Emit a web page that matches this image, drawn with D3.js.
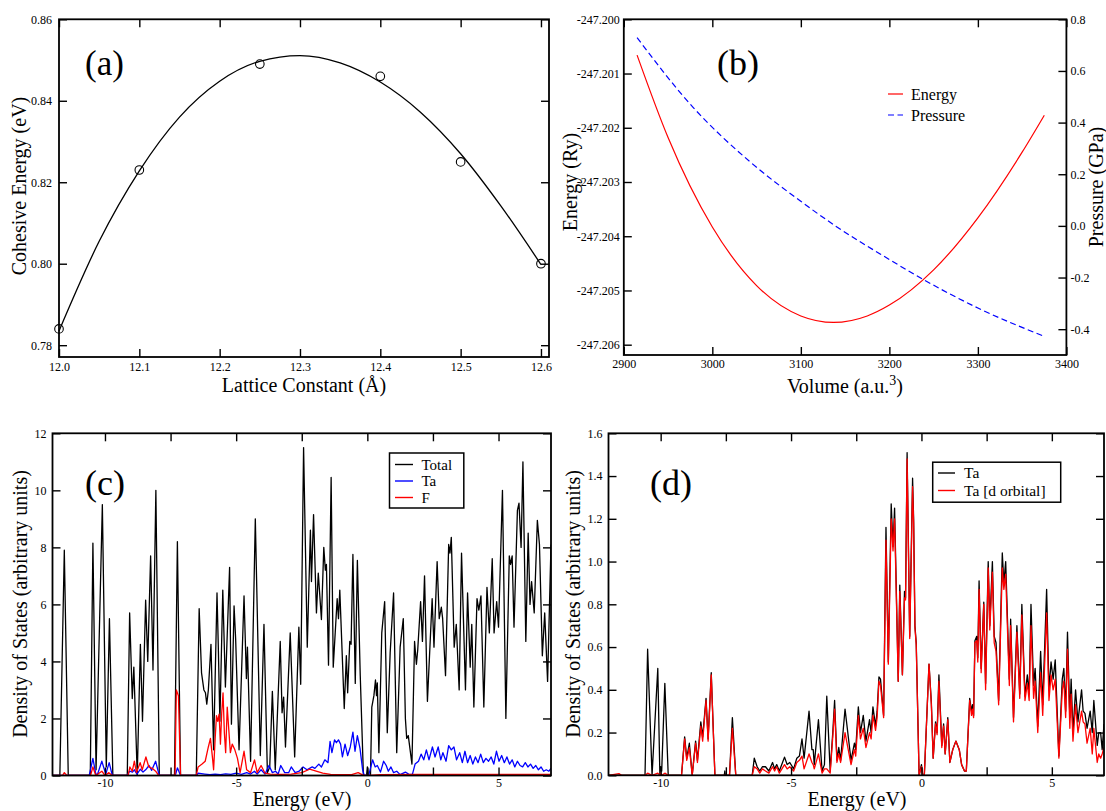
<!DOCTYPE html>
<html><head><meta charset="utf-8">
<script src="https://cdn.jsdelivr.net/npm/d3@7"></script>
<style>
body{margin:0;background:#fff}
svg{display:block}
text{font-family:"Liberation Serif","Times New Roman",serif;fill:#000}
</style>
</head><body>
<svg id="chart" width="1106" height="811"></svg>
<script>
// ---------------- (a) cohesive energy ----------------
const latticeConst = [12.0, 12.1, 12.25, 12.4, 12.5, 12.6];
const cohesiveEnergy = [0.784, 0.823, 0.849, 0.846, 0.825, 0.800];
const fitLattice = [12.0,12.05,12.1,12.15,12.2,12.25,12.3,12.35,12.4,12.45,12.5,12.55,12.6];
const fitEnergy  = [0.7835,0.8055,0.8228,0.8360,0.8448,0.8497,0.8511,0.8493,0.8446,0.8372,0.8270,0.8142,0.7998];
const aXTicks = [12.0,12.1,12.2,12.3,12.4,12.5,12.6];
const aYTicks = [0.78,0.80,0.82,0.84,0.86];

// ---------------- (b) E-V and P-V ----------------
const volE = [2915,2950,3000,3050,3100,3137,3175,3200,3250,3300,3350,3375];
const energyRy = [-247.20066,-247.20218,-247.20383,-247.20491,-247.20547,-247.20559,-247.20547,-247.20527,-247.20462,-247.20366,-247.20245,-247.20177];
const volP = [2915,2978,3042,3100,3139,3199,3237,3300,3375];
const pressureGPa = [0.729,0.46,0.25,0.095,0.0,-0.128,-0.205,-0.318,-0.428];
const bXTicks = [2900,3000,3100,3200,3300,3400];
const bYTicks = [-247.206,-247.205,-247.204,-247.203,-247.202,-247.201,-247.200];
const bY2Ticks = [-0.4,-0.2,0.0,0.2,0.4,0.6,0.8];

// ---------------- (c) DOS total / Ta / F ----------------
const dosTotal = [[-12,0],[-11.72,0],[-11.55,7.9],[-11.40,0],[-10.56,0],[-10.46,8.15],[-10.34,0.2],[-10.10,9.5],[-9.95,0.3],[-9.83,5.5],[-9.70,0],[-9.15,0],[-9.06,5.7],[-8.96,2.7],[-8.90,3.8],[-8.77,0],[-8.65,4.6],[-8.57,1.9],[-8.45,6.15],[-8.37,4.0],[-8.26,7.7],[-8.17,3.7],[-8.06,10.0],[-7.93,0],[-7.35,0],[-7.24,8.2],[-7.12,0],[-6.52,0],[-6.41,5.85],[-6.32,3.6],[-6.23,3.0],[-6.17,2.9],[-6.12,2.5],[-6.06,3.0],[-5.96,4.6],[-5.86,0.9],[-5.73,6.4],[-5.68,4.5],[-5.62,1.9],[-5.51,6.5],[-5.41,3.1],[-5.25,7.3],[-5.18,1.8],[-5.08,5.95],[-5.02,4.8],[-4.89,0.9],[-4.70,6.3],[-4.61,3.4],[-4.57,4.5],[-4.45,0.5],[-4.27,9.0],[-4.08,0.7],[-3.94,5.3],[-3.81,0.1],[-3.72,0.3],[-3.62,2.95],[-3.51,0.2],[-3.32,4.7],[-3.25,2.2],[-3.19,2.75],[-3.12,1.0],[-2.94,5.0],[-2.77,0.65],[-2.61,5.2],[-2.54,3.2],[-2.43,11.5],[-2.29,4.5],[-2.17,8.6],[-2.13,6.8],[-2.05,9.15],[-1.94,5.7],[-1.87,7.1],[-1.75,5.47],[-1.66,8.0],[-1.60,7.2],[-1.56,7.4],[-1.48,3.87],[-1.38,10.45],[-1.30,3.8],[-1.15,6.2],[-1.10,5.5],[-1.05,6.5],[-0.88,2.35],[-0.80,4.2],[-0.75,2.9],[-0.67,4.7],[-0.62,4.6],[-0.55,7.75],[-0.46,3.23],[-0.38,7.54],[-0.27,3.5],[-0.15,0],[-0.03,0],[0.0,0.3],[0.04,0],[0.12,0],[0.17,2.4],[0.25,2.8],[0.31,3.35],[0.35,2.8],[0.38,3.25],[0.44,0.8],[0.55,5.0],[0.66,6.1],[0.76,1.5],[0.87,4.3],[1.0,6.4],[1.12,0.8],[1.25,4.5],[1.37,5.5],[1.45,2.0],[1.50,1.3],[1.56,1.4],[1.70,0.4],[1.80,4.7],[1.87,3.9],[1.92,4.4],[2.03,6.1],[2.10,4.7],[2.18,7.0],[2.29,2.6],[2.47,6.2],[2.54,4.5],[2.66,7.5],[2.74,5.5],[2.82,5.9],[2.87,5.5],[2.98,3.5],[3.10,8.1],[3.15,7.8],[3.20,8.35],[3.31,4.5],[3.39,5.3],[3.50,3.0],[3.59,7.8],[3.74,3.0],[3.82,6.4],[3.92,3.8],[3.98,5.3],[4.06,2.4],[4.18,6.2],[4.25,5.8],[4.33,6.3],[4.44,2.4],[4.56,6.6],[4.65,5.0],[4.76,7.6],[4.83,5.0],[4.93,6.1],[5.0,5.2],[5.15,10.0],[5.28,2.0],[5.41,7.7],[5.46,7.4],[5.52,7.7],[5.59,5.2],[5.72,9.3],[5.78,9.55],[5.86,8.0],[5.93,11.0],[6.04,4.7],[6.13,8.5],[6.20,6.0],[6.26,6.8],[6.36,5.7],[6.48,8.95],[6.56,8.1],[6.67,4.2],[6.76,5.7],[6.87,3.3],[7.0,8.1]];
const dosTa = [[-12,0],[-10.6,0],[-10.46,0.6],[-10.35,0.05],[-10.28,0.05],[-10.12,0.5],[-9.97,0.05],[-9.84,0.45],[-9.72,0],[-9.15,0],[-9.06,0.15],[-8.95,0.12],[-8.88,0.2],[-8.78,0.05],[-8.65,0.22],[-8.55,0.12],[-8.45,0.2],[-8.32,0.35],[-8.22,0.18],[-8.07,0.5],[-7.93,0],[-7.32,0],[-7.24,0.27],[-7.12,0],[-6.52,0],[-6.45,0.08],[-6.2,0.05],[-6.0,0.03],[-5.8,0.05],[-5.6,0.03],[-5.4,0.06],[-5.2,0.04],[-5.0,0.08],[-4.8,0.04],[-4.6,0.1],[-4.45,0.05],[-4.3,0.15],[-4.2,0.05],[-4.05,0.2],[-3.9,0.05],[-3.75,0.35],[-3.62,0.1],[-3.5,0.15],[-3.4,0.05],[-3.3,0.35],[-3.15,0.1],[-3.0,0.1],[-2.9,0.3],[-2.75,0.1],[-2.6,0.15],[-2.45,0.3],[-2.3,0.2],[-2.1,0.3],[-2.0,0.25],[-1.85,0.4],[-1.75,0.3],[-1.62,0.55],[-1.5,0.45],[-1.42,1.2],[-1.35,0.8],[-1.25,1.25],[-1.18,1.15],[-1.1,1.25],[-1.02,1.1],[-0.95,0.65],[-0.85,1.1],[-0.75,0.7],[-0.65,1.0],[-0.55,1.52],[-0.47,0.85],[-0.38,1.4],[-0.28,0.95],[-0.18,0.2],[-0.12,0.0],[0.05,0.0],[0.2,0.55],[0.3,0.3],[0.38,0.35],[0.5,0.12],[0.62,0.5],[0.72,0.35],[0.8,0.15],[0.9,0.3],[1.0,0.1],[1.12,0.15],[1.25,0.03],[1.45,0.12],[1.6,0.03],[1.72,0.05],[1.82,0.4],[1.95,0.5],[2.05,0.75],[2.15,0.55],[2.25,0.9],[2.35,0.55],[2.48,1.0],[2.58,0.65],[2.7,1.0],[2.8,0.55],[2.88,0.8],[3.0,0.5],[3.1,1.05],[3.2,0.9],[3.3,1.0],[3.4,0.55],[3.52,0.8],[3.62,0.45],[3.72,0.85],[3.82,0.45],[3.92,0.7],[4.02,0.4],[4.12,0.65],[4.22,0.45],[4.32,0.75],[4.42,0.45],[4.52,0.6],[4.62,0.5],[4.72,0.65],[4.82,0.4],[4.92,0.85],[5.02,0.5],[5.12,0.7],[5.22,0.45],[5.32,0.65],[5.42,0.4],[5.52,0.55],[5.62,0.3],[5.72,0.5],[5.82,0.35],[5.92,0.3],[6.02,0.45],[6.12,0.3],[6.22,0.4],[6.32,0.25],[6.42,0.35],[6.52,0.2],[6.62,0.3],[6.72,0.15],[6.82,0.2],[6.92,0.15],[7.0,0.25]];
const dosF = [[-12,0],[-11.62,0],[-11.55,0.1],[-11.45,0],[-10.55,0],[-10.46,0.3],[-10.35,0],[-10.12,0.15],[-10.0,0],[-9.85,0.1],[-9.72,0],[-9.12,0],[-9.05,0.3],[-8.96,0.15],[-8.88,0.5],[-8.8,0.1],[-8.66,0.45],[-8.58,0.2],[-8.44,0.65],[-8.33,0.3],[-8.2,0.25],[-8.07,0.15],[-7.95,0],[-7.33,0],[-7.28,3.0],[-7.2,2.8],[-7.12,0],[-6.52,0],[-6.45,0.3],[-6.3,0.4],[-6.18,0.5],[-6.06,1.0],[-5.98,1.3],[-5.9,0.6],[-5.86,0.2],[-5.8,1.3],[-5.75,2.1],[-5.7,1.9],[-5.65,2.15],[-5.6,1.1],[-5.55,2.2],[-5.5,2.9],[-5.45,1.5],[-5.4,0.8],[-5.34,2.4],[-5.28,1.6],[-5.22,0.8],[-5.15,1.1],[-5.05,0.9],[-4.95,0.6],[-4.85,0.1],[-4.7,0.85],[-4.6,0.2],[-4.45,0.1],[-4.3,0.55],[-4.2,0.1],[-4.05,0.35],[-3.9,0.08],[-3.7,0.05],[-3.3,0.04],[-2.9,0.05],[-2.5,0.1],[-2.2,0.22],[-1.95,0.15],[-1.7,0.08],[-1.4,0.04],[-0.6,0.03],[-0.35,0.1],[-0.2,0.03],[-0.1,0],[0.1,0],[0.5,0.03],[2.0,0.04],[7.0,0.04]];
const cXTicks = [-10,-7.5,-5,-2.5,0,2.5,5];
const cYTicks = [0,2,4,6,8,10,12];

// ---------------- (d) Ta DOS / Ta d-orbital ----------------
const dEnergy = [-12,-11.6,-11.5,-10.6,-10.5,-10.33,-10.11,-10.03,-10.0,-9.96,-9.84,-9.71,-9.2,-9.08,-9.0,-8.9,-8.79,-8.66,-8.59,-8.46,-8.39,-8.26,-8.18,-8.06,-7.92,-7.56,-7.54,-7.52,-7.36,-7.25,-7.12,-6.49,-6.41,-6.3,-6.2,-6.1,-5.98,-5.85,-5.71,-5.63,-5.55,-5.45,-5.25,-5.15,-5.05,-4.9,-4.78,-4.68,-4.58,-4.5,-4.31,-4.2,-4.15,-4.11,-3.95,-3.81,-3.72,-3.63,-3.5,-3.4,-3.33,-3.24,-3.17,-3.1,-2.93,-2.7,-2.57,-2.52,-2.42,-2.34,-2.23,-2.13,-1.99,-1.93,-1.86,-1.76,-1.7,-1.63,-1.57,-1.45,-1.36,-1.27,-1.16,-1.09,-1.03,-0.89,-0.83,-0.73,-0.65,-0.61,-0.55,-0.45,-0.34,-0.3,-0.25,-0.2,-0.09,0.0,0.05,0.11,0.29,0.38,0.45,0.54,0.6,0.67,0.78,0.85,0.91,1.01,1.09,1.2,1.32,1.45,1.54,1.65,1.72,1.85,1.92,1.96,2.0,2.05,2.12,2.16,2.21,2.29,2.39,2.46,2.56,2.62,2.72,2.79,2.86,2.96,3.1,3.16,3.23,3.37,3.42,3.53,3.66,3.77,3.85,3.97,4.06,4.13,4.2,4.3,4.36,4.46,4.57,4.65,4.8,4.89,4.97,5.05,5.13,5.27,5.4,5.46,5.53,5.6,5.69,5.74,5.81,5.91,6.0,6.14,6.2,6.27,6.35,6.47,6.55,6.61,6.74,6.8,6.87,6.93,7.0];
const dTa = [0,0,0,0,0.59,0,0.5,0,0.04,0.02,0.43,0,0,0.18,0.08,0.15,0,0.16,0.07,0.25,0.18,0.36,0.17,0.48,0,0,0.02,0,0,0.27,0,0,0.08,0.04,0.02,0.04,0.04,0.02,0.06,0.03,0.05,0.02,0.085,0.05,0.06,0.03,0.08,0.09,0.17,0.08,0.3,0.12,0.12,0.05,0.26,0.02,0.05,0.37,0.02,0.2,0.35,0.07,0.13,0.07,0.31,0.07,0.15,0.12,0.32,0.2,0.28,0.16,0.26,0.2,0.32,0.23,0.3,0.46,0.45,0.28,1.16,0.53,1.27,1.07,1.25,0.44,0.89,0.47,0.86,0.83,1.51,0.65,1.39,1.2,0.7,0.62,0,0.05,0,0,0.52,0.34,0.08,0.25,0.2,0.47,0.14,0.24,0.1,0.27,0.06,0.12,0.16,0.12,0.05,0.02,0.02,0.36,0.3,0.33,0.28,0.63,0.65,0.55,0.91,0.5,0.81,0.43,1.0,0.7,1.0,0.65,0.62,0.35,1.04,0.9,1.0,0.45,0.73,0.27,0.7,0.38,0.8,0.37,0.47,0.38,0.8,0.42,0.5,0.23,0.58,0.33,0.87,0.4,0.53,0.45,0.54,0.09,0.45,0.5,0.3,0.67,0.27,0.45,0.2,0.4,0.25,0.4,0.3,0.29,0.22,0.3,0.2,0.35,0.14,0.2,0.2,0.12,0.24];
const dTaD = [0,0.008,0,0,0.01,0,0.01,0,0.01,0,0.01,0,0,0.17,0.07,0.13,0,0.15,0.06,0.23,0.16,0.35,0.16,0.47,0,0,0,0,0,0.22,0,0,0.04,0.03,0.01,0.03,0.02,0.01,0.04,0.02,0.04,0.01,0.05,0.03,0.04,0.02,0.06,0.07,0.09,0.03,0.1,0.06,0.05,0.03,0.1,0.01,0.03,0.03,0.01,0.18,0.31,0.06,0.1,0.06,0.2,0.05,0.12,0.09,0.28,0.17,0.22,0.13,0.2,0.17,0.28,0.21,0.27,0.44,0.42,0.27,1.1,0.52,1.2,1.05,1.2,0.44,0.86,0.47,0.83,0.82,1.48,0.64,1.35,1.18,0.69,0.61,0,0.04,0,0,0.52,0.33,0.08,0.24,0.19,0.44,0.13,0.23,0.1,0.26,0.06,0.12,0.16,0.12,0.05,0.02,0.02,0.35,0.28,0.31,0.27,0.62,0.63,0.53,0.87,0.48,0.8,0.4,0.97,0.68,0.95,0.62,0.58,0.33,0.97,0.87,0.94,0.42,0.7,0.25,0.67,0.36,0.75,0.35,0.43,0.35,0.7,0.36,0.44,0.2,0.48,0.28,0.76,0.35,0.47,0.4,0.45,0.08,0.4,0.44,0.27,0.59,0.22,0.38,0.16,0.33,0.2,0.3,0.25,0.24,0.15,0.22,0.1,0.22,0.06,0.1,0.08,0.1,0.13];
const dYTicks = [0,0.2,0.4,0.6,0.8,1.0,1.2,1.4,1.6];

// ---------------- helpers ----------------
const svg = d3.select("#chart");
const SERIF = '"Liberation Serif","Times New Roman",serif';
const hy = s => s.replace(/\u2212/g, "-");

function frame(x0, y0, x1, y1) {
  svg.append("rect").attr("x", x0).attr("y", y0).attr("width", x1 - x0).attr("height", y1 - y0)
    .attr("fill", "none").attr("stroke", "#000").attr("stroke-width", 1.8);
}
function axis(kind, scale, pos, values, fmt, pad) {
  const gen = {bottom: d3.axisBottom, top: d3.axisTop, left: d3.axisLeft, right: d3.axisRight}[kind](scale)
    .tickValues(values).tickSize(-8).tickPadding(pad || 4).tickFormat(fmt || (() => ""));
  const g = svg.append("g")
    .attr("transform", (kind === "bottom" || kind === "top") ? `translate(0,${pos})` : `translate(${pos},0)`)
    .call(gen);
  g.select(".domain").remove();
  g.attr("font-family", SERIF).attr("font-size", 12);
  g.selectAll(".tick line").attr("stroke", "#000").attr("stroke-width", 1.4);
  g.selectAll(".tick text").attr("fill", "#000");
  return g;
}
function text(x, y, s, size, anchor, rot) {
  const t = svg.append("text").attr("x", x).attr("y", y).attr("font-size", size)
    .attr("text-anchor", anchor || "middle").text(s);
  if (rot) t.attr("transform", `rotate(${rot},${x},${y})`);
  return t;
}
function clip(id, x0, y0, x1, y1) {
  svg.append("clipPath").attr("id", id).append("rect")
    .attr("x", x0).attr("y", y0).attr("width", x1 - x0).attr("height", y1 - y0);
}

// ================= panel (a) =================
{
  const L = 59, R = 549, T = 19.3, B = 357;
  const x = d3.scaleLinear().domain([12.0, 12.61]).range([L, R]);
  const y = d3.scaleLinear().domain([0.7771, 0.86]).range([B, T]);
  const fitPts = fitLattice.map((v, i) => [v, fitEnergy[i]]);
  svg.append("path").datum(fitPts).attr("fill", "none").attr("stroke", "#000").attr("stroke-width", 1.3)
    .attr("d", d3.line().x(d => x(d[0])).y(d => y(d[1])).curve(d3.curveMonotoneX));
  svg.selectAll(".ptA").data(latticeConst).join("circle")
    .attr("cx", d => x(d)).attr("cy", (d, i) => y(cohesiveEnergy[i])).attr("r", 4.3)
    .attr("fill", "none").attr("stroke", "#000").attr("stroke-width", 1.1);
  axis("bottom", x, B, aXTicks, d3.format(".1f"), 5);
  axis("top", x, T, aXTicks);
  axis("left", y, L, aYTicks, d3.format(".2f"), 7);
  axis("right", y, R, aYTicks);
  frame(L, T, R, B);
  text(304, 392, "Lattice Constant (Å)", 20);
  text(26, 186, "Cohesive Energy (eV)", 20, "middle", -90);
  text(85, 75, "(a)", 35, "start");
}

// ================= panel (b) =================
{
  const L = 623.8, R = 1066.4, T = 19.3, B = 355;
  const x = d3.scaleLinear().domain([2900, 3400]).range([L, R]);
  const y = d3.scaleLinear().domain([-247.20619, -247.2]).range([B, T]);
  const y2 = d3.scaleLinear().domain([-0.5, 0.8]).range([B, T]);
  svg.append("path").datum(volE.map((v, i) => [v, energyRy[i]])).attr("fill", "none")
    .attr("stroke", "#ff0000").attr("stroke-width", 1.2)
    .attr("d", d3.line().x(d => x(d[0])).y(d => y(d[1])).curve(d3.curveMonotoneX));
  svg.append("path").datum(volP.map((v, i) => [v, pressureGPa[i]])).attr("fill", "none")
    .attr("stroke", "#0000ff").attr("stroke-width", 1.2).attr("stroke-dasharray", "6,3.5")
    .attr("d", d3.line().x(d => x(d[0])).y(d => y2(d[1])).curve(d3.curveMonotoneX));
  axis("bottom", x, B, bXTicks, d3.format("d"), 4);
  axis("top", x, T, bXTicks);
  axis("left", y, L, bYTicks, d => hy(d3.format(".3f")(d)), 4);
  axis("right", y2, R, bY2Ticks, d => hy(d3.format(".1f")(d)), 4);
  frame(L, T, R, B);
  const xl = text(845, 393, "Volume (a.u.", 20);
  xl.append("tspan").attr("font-size", 14).attr("dy", -8).text("3");
  xl.append("tspan").attr("dy", 8).text(")");
  text(577, 182, "Energy (Ry)", 20, "middle", -90);
  text(1103, 187, "Pressure (GPa)", 20, "middle", -90);
  text(717, 75, "(b)", 36, "start");
  // legend
  svg.append("line").attr("x1", 888).attr("x2", 903).attr("y1", 94).attr("y2", 94)
    .attr("stroke", "#ff0000").attr("stroke-width", 1.2);
  svg.append("line").attr("x1", 888).attr("x2", 903).attr("y1", 115).attr("y2", 115)
    .attr("stroke", "#0000ff").attr("stroke-width", 1.2).attr("stroke-dasharray", "6,3.5");
  text(911, 99.5, "Energy", 16, "start");
  text(911, 120.5, "Pressure", 16, "start");
}

// ================= panel (c) =================
{
  const L = 52.5, R = 551, T = 433.3, B = 775.5;
  const x = d3.scaleLinear().domain([-12, 7]).range([L, R]);
  const y = d3.scaleLinear().domain([0, 12]).range([B, T]);
  clip("clipC", L, T, R, B);
  const line = d3.line().x(d => x(d[0])).y(d => y(d[1]));
  const series = [[dosTotal, "#000000"], [dosTa, "#0000ff"], [dosF, "#ff0000"]];
  series.forEach(([data, col]) => {
    svg.append("path").datum(data).attr("clip-path", "url(#clipC)").attr("fill", "none")
      .attr("stroke", col).attr("stroke-width", 1.3).attr("stroke-linejoin", "round").attr("d", line);
  });
  const fx = v => (v % 5 === 0 ? String(v) : "");
  axis("bottom", x, B, cXTicks, fx, 3);
  axis("top", x, T, cXTicks);
  axis("left", y, L, cYTicks, d3.format("d"), 6);
  axis("right", y, R, cYTicks);
  frame(L, T, R, B);
  text(302, 806, "Energy (eV)", 20);
  text(27, 604, "Density of States (arbitrary units)", 20, "middle", -90);
  text(85, 495, "(c)", 36, "start");
  // legend
  svg.append("rect").attr("x", 389.5).attr("y", 453).attr("width", 74.3).attr("height", 55)
    .attr("fill", "#fff").attr("stroke", "#000").attr("stroke-width", 1.5);
  [["Total", "#000000"], ["Ta", "#0000ff"], ["F", "#ff0000"]].forEach(([lab, col], i) => {
    const yy = 464.5 + i * 16.5;
    svg.append("line").attr("x1", 395).attr("x2", 413).attr("y1", yy).attr("y2", yy)
      .attr("stroke", col).attr("stroke-width", 1.4);
    text(421.5, yy + 5, lab, 15, "start");
  });
}

// ================= panel (d) =================
{
  const L = 608.5, R = 1104, T = 433.3, B = 775.3;
  const x = d3.scaleLinear().domain([-12, 7]).range([L, R]);
  const y = d3.scaleLinear().domain([0, 1.6]).range([B, T]);
  clip("clipD", L, T, R, B);
  const mk = vals => dEnergy.map((e, i) => [e, vals[i]]);
  const line = d3.line().x(d => x(d[0])).y(d => y(d[1]));
  [[dTa, "#000000"], [dTaD, "#ff0000"]].forEach(([vals, col]) => {
    svg.append("path").datum(mk(vals)).attr("clip-path", "url(#clipD)").attr("fill", "none")
      .attr("stroke", col).attr("stroke-width", 1.3).attr("stroke-linejoin", "round").attr("d", line);
  });
  const fx = v => (v % 5 === 0 ? String(v) : "");
  axis("bottom", x, B, cXTicks, fx, 3);
  axis("top", x, T, cXTicks);
  axis("left", y, L, dYTicks, d3.format(".1f"), 6);
  axis("right", y, R, dYTicks);
  frame(L, T, R, B);
  text(857, 806, "Energy (eV)", 20);
  text(580, 604, "Density of States (arbitrary units)", 20, "middle", -90);
  text(650, 495, "(d)", 36, "start");
  svg.append("rect").attr("x", 932.7).attr("y", 462.2).attr("width", 128).attr("height", 40)
    .attr("fill", "#fff").attr("stroke", "#000").attr("stroke-width", 1.5);
  [["Ta", "#000000"], ["Ta [d orbital]", "#ff0000"]].forEach(([lab, col], i) => {
    const yy = 473 + i * 17.5;
    svg.append("line").attr("x1", 938).attr("x2", 955).attr("y1", yy).attr("y2", yy)
      .attr("stroke", col).attr("stroke-width", 1.4);
    text(964, yy + 5, lab, 15.5, "start");
  });
}
</script>
</body></html>
